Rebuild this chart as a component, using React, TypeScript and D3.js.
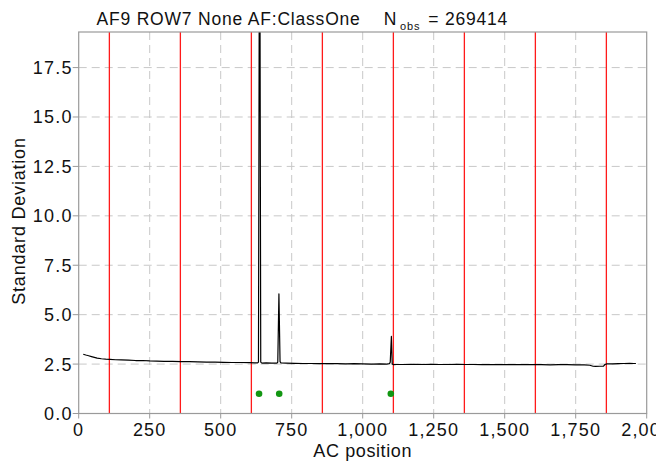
import React from "react";
import * as d3 from "d3";

const titleMain = "AF9 ROW7 None AF:ClassOne";
const nObs = "269414";
const xLabel = "AC position";
const yLabel = "Standard Deviation";

const positions = [
  16, 25, 35, 45, 55, 65, 80, 95, 110, 130, 150, 175, 200, 225, 250, 275, 300, 330, 360, 390,
  420, 450, 480, 510, 540, 570, 600, 620, 630, 633, 637, 641, 645, 660, 680, 698, 701, 705, 709,
  712, 730, 760, 790, 820, 850, 880, 910, 940, 970, 1000, 1030, 1060, 1085, 1094, 1097, 1101, 1104,
  1108, 1120, 1150, 1180, 1210, 1240, 1270, 1300, 1330, 1360, 1390, 1420, 1450, 1480, 1510, 1540,
  1570, 1600, 1630, 1660, 1690, 1720, 1750, 1780, 1800, 1811, 1820, 1835, 1848, 1853, 1860, 1880,
  1900, 1920, 1940, 1955, 1962,
];
const sdValues = [
  3.0, 2.96, 2.92, 2.88, 2.84, 2.8, 2.77, 2.75, 2.74, 2.72, 2.71, 2.7, 2.68, 2.68, 2.66, 2.65, 2.64, 2.64, 2.62, 2.62,
  2.61, 2.6, 2.6, 2.59, 2.58, 2.58, 2.57, 2.56, 2.56, 2.6, 30, 2.6, 2.55, 2.56, 2.55, 2.55, 2.6, 6.05, 2.62,
  2.56, 2.55, 2.54, 2.53, 2.53, 2.52, 2.52, 2.52, 2.51, 2.52, 2.51, 2.5, 2.51, 2.5, 2.52, 2.6, 3.9, 2.5,
  2.47, 2.48, 2.48, 2.49, 2.48, 2.49, 2.48, 2.48, 2.49, 2.48, 2.48, 2.47, 2.48, 2.47, 2.47, 2.48,
  2.47, 2.47, 2.47, 2.46, 2.47, 2.47, 2.46, 2.46, 2.44, 2.39, 2.38, 2.39, 2.4, 2.48, 2.51, 2.51,
  2.52, 2.53, 2.54, 2.53, 2.53,
];
const redLines = [108, 358, 608, 858, 1108, 1358, 1608, 1858];
const dotPositions = [635, 706, 1099];
const dotValues = [1.0, 1.0, 1.0];
const xTicks = [0, 250, 500, 750, 1000, 1250, 1500, 1750, 2000];
const yTicks = [0, 2.5, 5, 7.5, 10, 12.5, 15, 17.5];

const W = 656, H = 461;
const M = { left: 78.7, right: 646.7, top: 32, bottom: 413.5 };
const FONT = "'Liberation Sans', Arial, Helvetica, sans-serif";

export default function App() {
  const x = d3.scaleLinear().domain([0, 2000]).range([M.left, M.right]);
  const y = d3.scaleLinear().domain([0, 19.3]).range([M.bottom, M.top]);
  const line = d3
    .line<number>()
    .x((_, i) => x(positions[i]))
    .y((d) => y(d));
  const fx = d3.format(",");
  const fy = d3.format(".1f");
  const grid = "#c8c8c8";
  const axis = "#9a9a9a";
  return (
    <svg width={W} height={H} style={{ position: "absolute", left: 0, top: 0, background: "#fff" }} fontFamily={FONT}>
      <defs>
        <clipPath id="plot">
          <rect x={M.left} y={M.top} width={M.right - M.left} height={M.bottom - M.top} />
        </clipPath>
      </defs>
      {xTicks.slice(1, -1).map((t) => (
        <line key={"gx" + t} x1={x(t)} x2={x(t)} y1={M.top} y2={M.bottom} stroke={grid} strokeWidth={1} strokeDasharray="8,5" />
      ))}
      {yTicks.slice(1).map((t) => (
        <line key={"gy" + t} x1={M.left} x2={M.right} y1={y(t)} y2={y(t)} stroke={grid} strokeWidth={1} strokeDasharray="8,5" />
      ))}
      {redLines.map((r) => (
        <line key={"r" + r} x1={x(r)} x2={x(r)} y1={M.top} y2={M.bottom} stroke="#ff1a1a" strokeWidth={1.3} />
      ))}
      <g clipPath="url(#plot)">
        <path d={line(sdValues) || ""} fill="none" stroke="#000" strokeWidth={1.2} strokeLinejoin="round" />
      </g>
      {dotPositions.map((p, i) => (
        <circle key={"d" + p} cx={x(p)} cy={y(dotValues[i])} r={3.3} fill="#129612" />
      ))}
      <rect x={M.left} y={M.top} width={M.right - M.left} height={M.bottom - M.top} fill="none" stroke={axis} strokeWidth={1.2} />
      {xTicks.map((t) => (
        <g key={"xt" + t}>
          <line x1={x(t)} x2={x(t)} y1={M.bottom} y2={M.bottom + 5} stroke={axis} />
          <text x={x(t)} y={M.bottom + 22} textAnchor="middle" fontSize={18} letterSpacing={1.2} fill="#111">
            {fx(t)}
          </text>
        </g>
      ))}
      {yTicks.map((t) => (
        <g key={"yt" + t}>
          <line x1={M.left - 6} x2={M.left} y1={y(t)} y2={y(t)} stroke={axis} />
          <text x={M.left - 6} y={y(t)} dy="0.36em" textAnchor="end" fontSize={18} letterSpacing={1.2} fill="#111">
            {fy(t)}
          </text>
        </g>
      ))}
      <text x={(M.left + M.right) / 2} y={457} textAnchor="middle" fontSize={18} letterSpacing={0.6} fill="#111">
        {xLabel}
      </text>
      <text transform={`translate(25,${221}) rotate(-90)`} textAnchor="middle" fontSize={18} letterSpacing={0.8} fill="#111">
        {yLabel}
      </text>
      <text x={96.5} y={25} fontSize={17.5} letterSpacing={0.8} fill="#111">
        {titleMain}
        <tspan dx={23}>N</tspan>
        <tspan dx={3} dy={5} fontSize={11}>obs</tspan>
        <tspan dx={8} dy={-5}>= {nObs}</tspan>
      </text>
    </svg>
  );
}
